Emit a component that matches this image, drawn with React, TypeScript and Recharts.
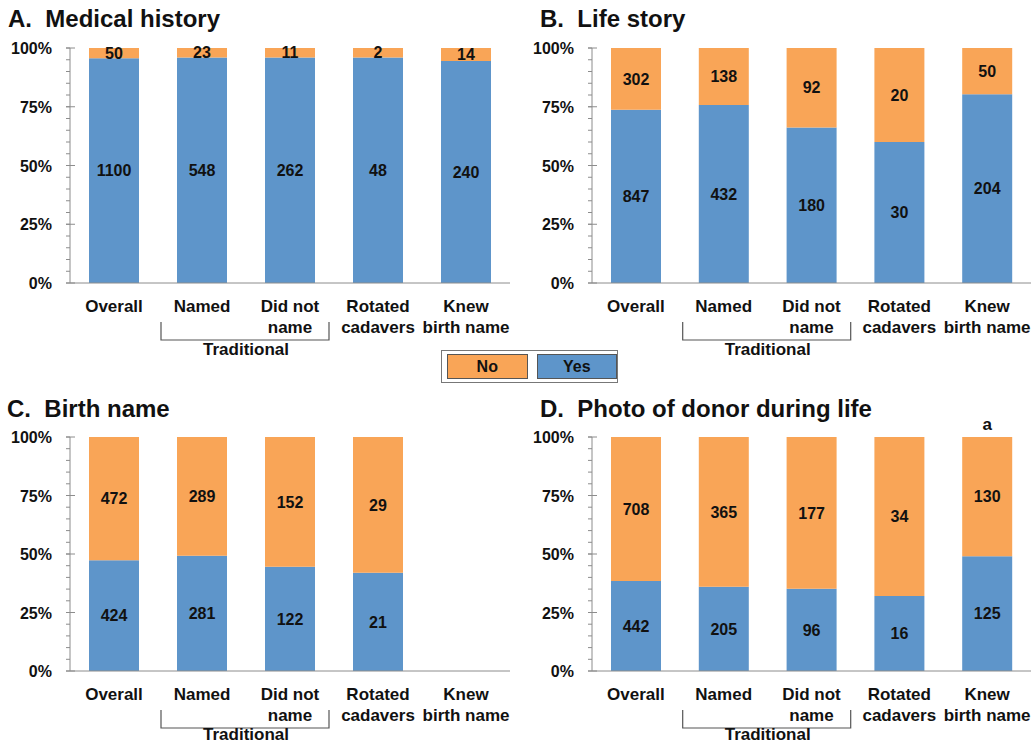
import React from "react";
import { BarChart, Bar, XAxis, YAxis, LabelList } from "recharts";

const categories = ["Overall", "Named", "Did not name", "Rotated cadavers", "Knew birth name"];
const categoryLines = [["Overall"], ["Named"], ["Did not", "name"], ["Rotated", "cadavers"], ["Knew", "birth name"]];

// counts per panel (Yes / No)
const medicalYes = [1100, 548, 262, 48, 240];
const medicalNo = [50, 23, 11, 2, 14];
const lifeYes = [847, 432, 180, 30, 204];
const lifeNo = [302, 138, 92, 20, 50];
const birthYes = [424, 281, 122, 21, null];
const birthNo = [472, 289, 152, 29, null];
const photoYes = [442, 205, 96, 16, 125];
const photoNo = [708, 365, 177, 34, 130];
const photoNotes = ["", "", "", "", "a"];

const majorTicks = [0, 25, 50, 75, 100];
const minorTicks = [0, 5, 10, 15, 20, 25, 30, 35, 40, 45, 50, 55, 60, 65, 70, 75, 80, 85, 90, 95, 100];

const ORANGE = "#F9A557";
const BLUE = "#5E95CA";
const AXIS = "#8c8c8c";
const FONT = "'Liberation Sans', Arial, sans-serif";

function buildRows(yes: (number | null)[], no: (number | null)[], notes?: string[]) {
  return categories.map((name, i) => {
    const y = yes[i];
    const n = no[i];
    const total = y != null && n != null ? y + n : 0;
    return {
      name,
      yes: total ? (y! / total) * 100 : null,
      no: total ? (n! / total) * 100 : null,
      yesN: y,
      noN: n,
      note: notes ? notes[i] : "",
    };
  });
}

const YTick = (props: any) => {
  const { x, y, payload } = props;
  if (!majorTicks.includes(payload.value)) return null;
  return (
    <g>
      <line x1={x} x2={x + 9} y1={y} y2={y} stroke={AXIS} strokeWidth={1} />
      <text x={x - 14} y={y + 6} textAnchor="end" fontSize={16} fontWeight="bold" fill="#111" fontFamily={FONT}>
        {payload.value}%
      </text>
    </g>
  );
};

const XTick = (props: any) => {
  const { x, y, payload, index, groupY } = props;
  const lines = categoryLines[index] || [payload.value];
  const band = 88;
  return (
    <g>
      {lines.map((l, k) => (
        <text key={k} x={x} y={y + 27 + k * 21} textAnchor="middle" fontSize={17} fontWeight="bold" fill="#111" fontFamily={FONT}>
          {l}
        </text>
      ))}
      {index === 1 && (
        <g>
          <path
            d={`M${x - 41},${y + 37} L${x - 41},${y + 55} L${x + band + 39},${y + 55} L${x + band + 39},${y + 37}`}
            fill="none"
            stroke="#555"
            strokeWidth={1.2}
          />
          <text x={x + band / 2} y={y + groupY} textAnchor="middle" fontSize={17} fontWeight="bold" fill="#111" fontFamily={FONT}>
            Traditional
          </text>
        </g>
      )}
    </g>
  );
};

const countFmt = (v: any) => (v == null ? "" : v);

function Panel(props: {
  rows: any[];
  width: number;
  height: number;
  top: number;
  left: number;
  marginTop: number;
  marginLeft: number;
  marginRight: number;
  xHeight: number;
  groupY: number;
  showNote?: boolean;
}) {
  const { rows, width, height, top, left, marginTop, marginLeft, marginRight, xHeight, groupY, showNote } = props;
  return (
    <div style={{ position: "absolute", left, top }}>
      <BarChart
        width={width}
        height={height}
        data={rows}
        margin={{ top: marginTop, right: marginRight, left: marginLeft, bottom: 0 }}
        barSize={50}
      >
        <XAxis
          dataKey="name"
          height={xHeight}
          interval={0}
          tickLine={false}
          tickSize={0}
          axisLine={{ stroke: AXIS }}
          tick={<XTick groupY={groupY} />}
        />
        <YAxis
          width={60}
          domain={[0, 100]}
          ticks={minorTicks}
          interval={0}
          tickSize={4}
          tickMargin={0}
          tickLine={{ stroke: AXIS }}
          axisLine={{ stroke: AXIS }}
          tick={<YTick />}
        />
        <Bar dataKey="yes" stackId="s" fill={BLUE} isAnimationActive={false}>
          <LabelList dataKey="yesN" position="center" formatter={countFmt} fontSize={16} fontWeight="bold" fill="#111" fontFamily={FONT} />
        </Bar>
        <Bar dataKey="no" stackId="s" fill={ORANGE} isAnimationActive={false}>
          <LabelList dataKey="noN" position="center" formatter={countFmt} fontSize={16} fontWeight="bold" fill="#111" fontFamily={FONT} />
          {showNote && (
            <LabelList dataKey="note" position="top" offset={7} fontSize={17} fontWeight="bold" fill="#111" fontFamily={FONT} />
          )}
        </Bar>
      </BarChart>
    </div>
  );
}

const titleStyle = (left: number, top: number): React.CSSProperties => ({
  position: "absolute",
  left,
  top,
  fontFamily: FONT,
  fontWeight: "bold",
  fontSize: 24,
  color: "#111",
  whiteSpace: "pre",
  lineHeight: "28px",
});

const legendBox = (bg: string): React.CSSProperties => ({
  width: 79,
  height: 23,
  background: bg,
  border: "1px solid #555",
  display: "flex",
  alignItems: "center",
  justifyContent: "center",
  fontFamily: FONT,
  fontWeight: "bold",
  fontSize: 16,
  color: "#111",
});

export default function App() {
  return (
    <div style={{ position: "absolute", left: 0, top: 0, width: 1034, height: 745, background: "#fff", overflow: "hidden" }}>
      <div style={titleStyle(8, 5)}>{"A.  Medical history"}</div>
      <div style={titleStyle(540, 5)}>{"B.  Life story"}</div>
      <div style={titleStyle(7, 395)}>{"C.  Birth name"}</div>
      <div style={titleStyle(540, 395)}>{"D.  Photo of donor during life"}</div>

      <Panel rows={buildRows(medicalYes, medicalNo)} width={520} height={370} top={0} left={0} marginTop={48} marginLeft={10} marginRight={10} xHeight={87} groupY={70} />
      <Panel rows={buildRows(lifeYes, lifeNo)} width={514} height={370} top={0} left={520} marginTop={48} marginLeft={12} marginRight={3} xHeight={87} groupY={70} />
      <Panel rows={buildRows(birthYes, birthNo)} width={520} height={365} top={380} left={0} marginTop={57} marginLeft={10} marginRight={10} xHeight={74} groupY={67} />
      <Panel rows={buildRows(photoYes, photoNo, photoNotes)} width={514} height={365} top={380} left={520} marginTop={57} marginLeft={12} marginRight={3} xHeight={74} groupY={67} showNote />

      <div
        style={{
          position: "absolute",
          left: 441,
          top: 350,
          width: 177,
          height: 33,
          border: "1px solid #777",
          background: "#fff",
          display: "flex",
          alignItems: "center",
          gap: 9,
          paddingLeft: 5,
          boxSizing: "border-box",
        }}
      >
        <div style={legendBox(ORANGE)}>No</div>
        <div style={legendBox(BLUE)}>Yes</div>
      </div>
    </div>
  );
}
